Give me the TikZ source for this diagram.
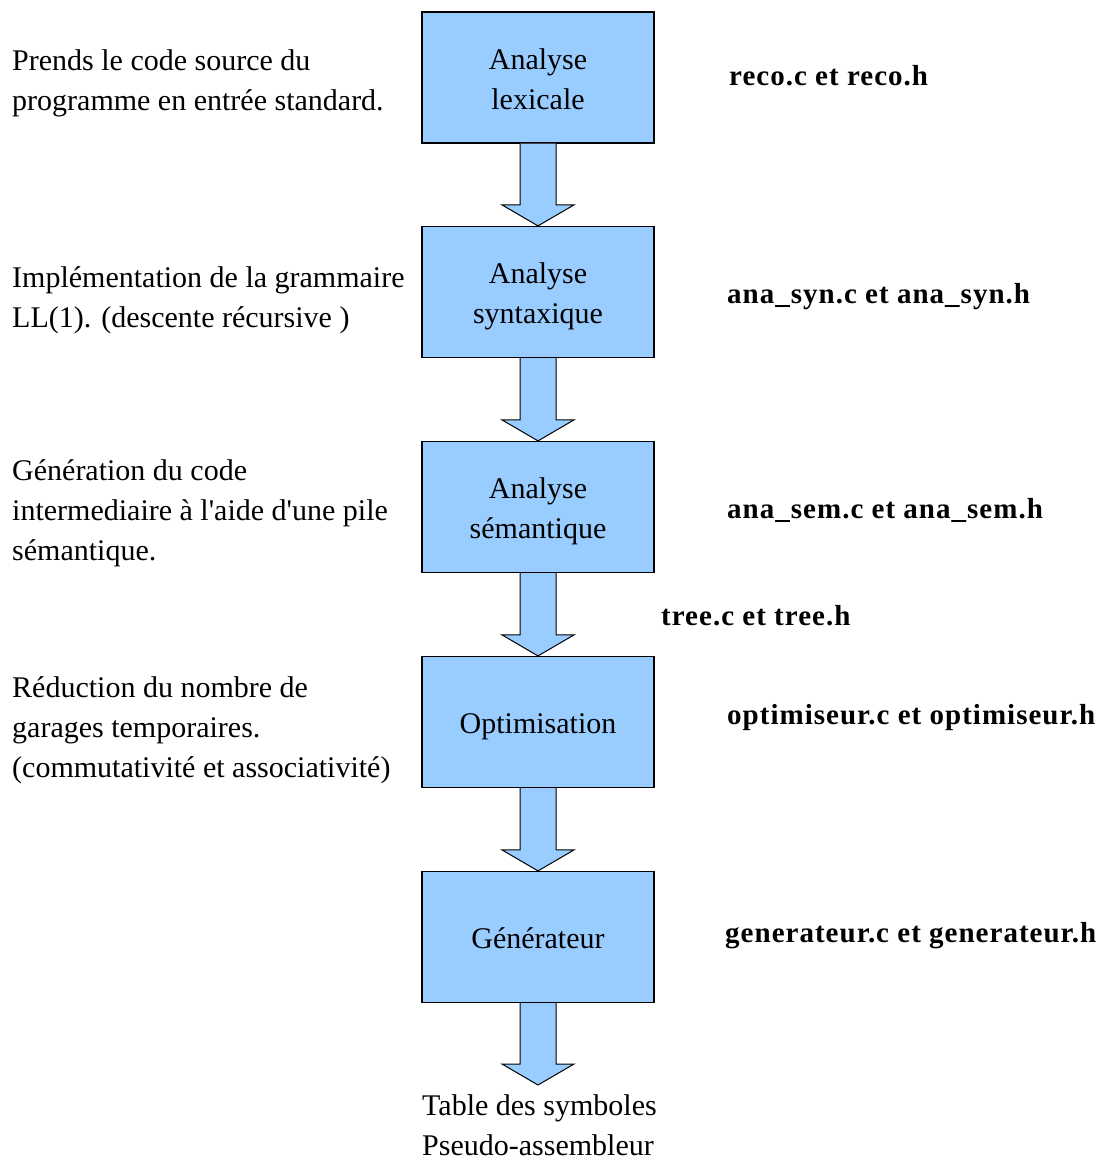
\documentclass[tikz,border=0pt]{standalone}
\usepackage{fontspec}
\setmainfont{Liberation Serif}[Ligatures=TeXOff]
\newfontfamily\filefont{Liberation Serif}[Ligatures=TeXOff,LetterSpace=3.5]
\usetikzlibrary{calc}
\definecolor{boxblue}{HTML}{99CCFF}
\newcommand{\lowered}[1]{\raisebox{-3.5pt}[\height][\depth]{\begin{tabular}{@{}c@{}}#1\end{tabular}}}
\tikzset{
  stage/.style={draw=black, line width=1.2pt, fill=boxblue, minimum width=232pt, minimum height=131pt, align=center, inner sep=0pt, font=\fontsize{30}{40}\selectfont},
  note/.style={anchor=west, align=left, inner sep=0pt, font=\fontsize{30}{40}\selectfont},
  file/.style={anchor=west, inner sep=0pt, font=\fontsize{29}{34}\filefont\bfseries},
  blockarrow/.style={draw=black, line width=1pt, fill=boxblue, line join=miter},
}
\newcommand{\blockarr}[2]{%
  \path[blockarrow] ($(#1.south)+(-18,0)$) -- ($(#2.north)+(-18,-21)$) -- ($(#2.north)+(-36,-21)$) -- (#2.north) -- ($(#2.north)+(36,-21)$) -- ($(#2.north)+(18,-21)$) -- ($(#1.south)+(18,0)$);}
\begin{document}
\begin{tikzpicture}[x=1pt,y=-1pt]
\useasboundingbox (0,0) rectangle (1110,1160);
\node[stage] (s1) at (538,77.5) {\lowered{Analyse\\lexicale}};
\node[stage] (s2) at (538,292) {\lowered{Analyse\\syntaxique}};
\node[stage] (s3) at (538,507) {\lowered{Analyse\\sémantique}};
\node[stage] (s4) at (538,722) {\lowered{Optimisation}};
\node[stage] (s5) at (538,937) {\lowered{Générateur}};
\coordinate (out) at (538,1085);
\node[note] (n1) at (12,83) {Prends le code source du\\programme en entrée standard.};
\node[note] (n2) at (12,300) {Implémentation de la grammaire\\LL(1). (descente récursive )};
\node[note] (n3) at (12,513) {Génération du code\\intermediaire à l'aide d'une pile\\sémantique.};
\node[note] (n4) at (12,730) {Réduction du nombre de\\garages temporaires.\\(commutativité et associativité)};
\node[note] (n5) at (422,1125) {Table des symboles\\Pseudo-assembleur};
\node[file] (f1) at (729,76) {reco.c et reco.h};
\node[file] (f2) at (727,297) {ana\_syn.c et ana\_syn.h};
\node[file] (f3) at (727,510) {ana\_sem.c et ana\_sem.h};
\node[file] (f34) at (661,616) {tree.c et tree.h};
\node[file] (f4) at (727,718) {optimiseur.c et optimiseur.h};
\node[file] (f5) at (725,936) {generateur.c et generateur.h};
\blockarr{s1}{s2}
\blockarr{s2}{s3}
\blockarr{s3}{s4}
\blockarr{s4}{s5}
\blockarr{s5}{out}
\end{tikzpicture}
\end{document}
